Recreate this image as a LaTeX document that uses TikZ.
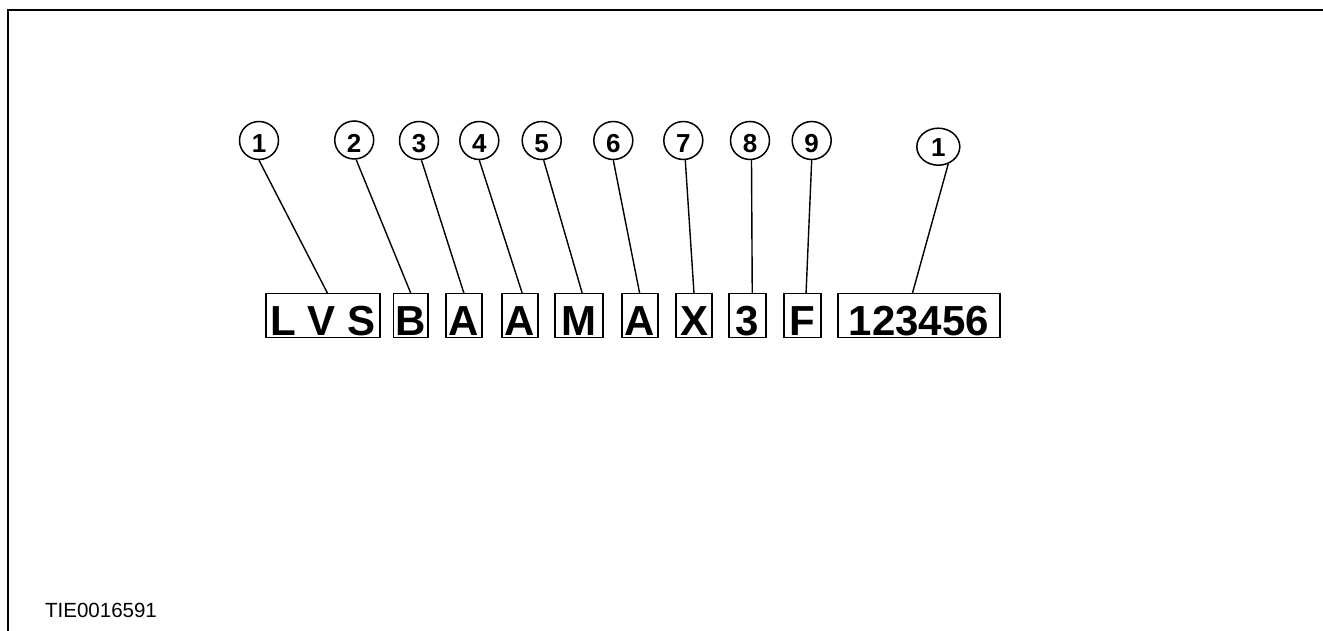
\documentclass[tikz,border=0pt]{standalone}
\usepackage{fontspec}
\setmainfont{Liberation Sans}
\usetikzlibrary{positioning,shapes.geometric}

\begin{document}
\begin{tikzpicture}[
  x=1pt, y=-1pt,
  char/.style={draw, line width=1.8pt, inner xsep=0pt, inner ysep=0pt, outer sep=0pt, font=\fontsize{42}{42}\selectfont\bfseries, text height=41.5pt, text depth=2.5pt},
  num/.style={draw, ellipse, line width=1.5pt, inner sep=0pt, minimum width=39pt, minimum height=38pt, font=\fontsize{26}{26}\selectfont\bfseries, text height=25pt, text depth=0pt},
  lead/.style={line width=1.4pt},
  code/.style={font=\fontsize{20.5}{20.5}\selectfont, anchor=base west, inner sep=0pt}
]
\useasboundingbox (0,0) rectangle (1323,631);
\draw[line width=2pt] (1323,10) -- (8,10) -- (8,631);

% character boxes
\node[char, minimum width=114.3pt, anchor=north west] (lvs) at (265.7,293.5) {L V S};
\node[char, minimum width=34.8pt, right=13.5pt of lvs] (cB) {B};
\node[char, minimum width=36.6pt, right=17.4pt of cB] (cA1) {A};
\node[char, minimum width=36pt, right=19.4pt of cA1] (cA2) {A};
\node[char, minimum width=48pt, right=17.6pt of cA2] (cM) {M};
\node[char, minimum width=36pt, right=18.4pt of cM] (cA3) {A};
\node[char, minimum width=36.6pt, right=18pt of cA3] (cX) {X};
\node[char, minimum width=36.7pt, right=17pt of cX] (c3) {3};
\node[char, minimum width=36.7pt, right=18pt of c3] (cF) {F};
\node[char, minimum width=162.3pt, right=17pt of cF] (serial) {123456};

% callout numbers
\node[num] (n1) at (259,140.5) {1};
\node[num] (n2) at (354.2,140) {2};
\node[num] (n3) at (419,140.5) {3};
\node[num] (n4) at (479.3,140.5) {4};
\node[num] (n5) at (541.7,140.5) {5};
\node[num] (n6) at (613.3,140.5) {6};
\node[num] (n7) at (683.3,140.5) {7};
\node[num] (n8) at (750,140.5) {8};
\node[num] (n9) at (811.7,140.5) {9};
\node[num, minimum width=43pt, minimum height=37pt, text height=19pt] (n10) at (938.3,146.7) {1};

\draw[lead] (n1.south) -- ([xshift=4.8pt]lvs.north);
\draw[lead] ([xshift=2pt]n2.south) -- (cB.north);
\draw[lead] ([xshift=2.5pt]n3.south) -- (cA1.north);
\draw[lead] (n4.south) -- ([xshift=2.6pt]cA2.north);
\draw[lead] ([xshift=2pt]n5.south) -- ([xshift=3pt]cM.north);
\draw[lead] (n6.south) -- (cA3.north);
\draw[lead] ([xshift=2pt]n7.south) -- (cX.north);
\draw[lead] ([xshift=1.5pt]n8.south) -- ([xshift=4.6pt]c3.north);
\draw[lead] (n9.south) -- ([xshift=3.7pt]cF.north);
\draw[lead] (n10.-60) -- ([xshift=-6.5pt]serial.north);

\node[code] (ref) at (45,617.7) {TIE0016591};
\end{tikzpicture}
\end{document}
